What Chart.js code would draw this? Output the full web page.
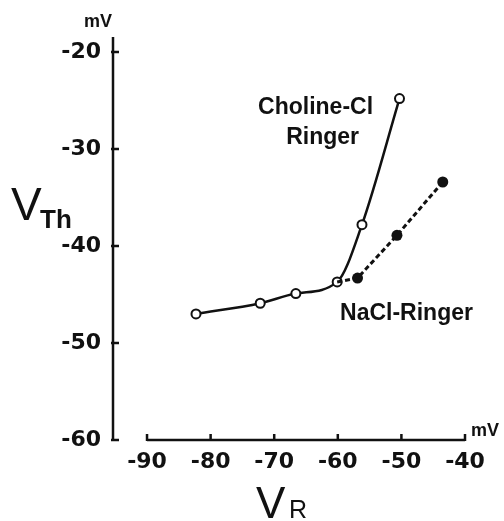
<!DOCTYPE html>
<html>
<head>
<meta charset="utf-8">
<script src="https://cdn.jsdelivr.net/npm/chart.js@4.4.1/dist/chart.umd.min.js"></script>
<style>
  html, body { margin: 0; padding: 0; background: #fff; }
  canvas { display: block; }
</style>
</head>
<body>
<canvas id="vthChart" width="504" height="521"></canvas>
<script>
// resting potential V_R (mV) against threshold V_Th (mV)
const cholineVR  = [-82.3, -72.2, -66.6, -60.1, -56.2, -50.3];
const cholineVTh = [-47.0, -45.9, -44.9, -43.7, -37.8, -24.8];
const naclVR  = [-60.1, -56.9, -50.7, -43.5];
const naclVTh = [-43.7, -43.3, -38.9, -33.4];
const xTicks = [-90, -80, -70, -60, -50, -40];
const yTicks = [-20, -30, -40, -50, -60];

const INK = '#111';

// curve labels, anchored in data units
const notes = [
  { text: 'Choline-Cl', x: -63.5, y: -25.7 },
  { text: 'Ringer', x: -62.4, y: -28.8 },
  { text: 'NaCl-Ringer', x: -49.2, y: -47.0 }
];

const toPoints = (xs, ys) => xs.map((v, i) => ({ x: v, y: ys[i] }));

const inkPlugin = {
  id: 'ink',
  beforeDatasetsDraw(chart) {
    const { ctx, chartArea, scales: { x, y } } = chart;
    const yb = y.getPixelForValue(-60);
    ctx.save();
    ctx.strokeStyle = INK;
    ctx.lineWidth = 2.5;
    ctx.lineCap = 'butt';

    // vertical axis with inward ticks
    ctx.beginPath();
    ctx.moveTo(chartArea.left, chartArea.top);
    ctx.lineTo(chartArea.left, yb + 1);
    yTicks.forEach(v => {
      const py = y.getPixelForValue(v);
      ctx.moveTo(chartArea.left - 2, py);
      ctx.lineTo(chartArea.left + 6, py);
    });
    ctx.stroke();

    // horizontal axis only spans -90..-40
    ctx.beginPath();
    ctx.moveTo(x.getPixelForValue(xTicks[0]), yb);
    ctx.lineTo(x.getPixelForValue(xTicks[xTicks.length - 1]), yb);
    xTicks.forEach(v => {
      const px = x.getPixelForValue(v);
      ctx.moveTo(px, yb + 1);
      ctx.lineTo(px, yb - 6);
    });
    ctx.stroke();
    ctx.restore();
  },
  afterDraw(chart) {
    const { ctx, scales: { x, y } } = chart;
    ctx.save();
    ctx.fillStyle = INK;
    ctx.textBaseline = 'alphabetic';

    // axis titles
    ctx.textAlign = 'left';
    ctx.font = '46px "Liberation Sans"';
    ctx.fillText('V', 11, 220);
    ctx.font = 'bold 26px "Liberation Sans"';
    ctx.fillText('Th', 40, 228);

    ctx.font = '44px "Liberation Sans"';
    ctx.fillText('V', 256, 518);
    ctx.font = '25px "Liberation Sans"';
    ctx.fillText('R', 289, 518);

    // units
    ctx.font = 'bold 18px "Liberation Sans"';
    ctx.textAlign = 'center';
    ctx.fillText('mV', 98, 27);
    ctx.textAlign = 'left';
    ctx.fillText('mV', 471, 436);

    // curve labels
    ctx.font = 'bold 23px "Liberation Sans"';
    ctx.textAlign = 'center';
    ctx.textBaseline = 'middle';
    notes.forEach(n => {
      ctx.fillText(n.text, x.getPixelForValue(n.x), y.getPixelForValue(n.y));
    });
    ctx.restore();
  }
};

new Chart(document.getElementById('vthChart'), {
  type: 'scatter',
  data: {
    datasets: [
      {
        label: 'NaCl-Ringer',
        data: toPoints(naclVR, naclVTh),
        showLine: true,
        borderColor: INK,
        borderWidth: 3,
        borderDash: [5, 3],
        tension: 0,
        pointRadius: [0, 5.5, 5.5, 5.5],
        pointBackgroundColor: INK,
        pointBorderColor: INK,
        pointBorderWidth: 0
      },
      {
        label: 'Choline-Cl Ringer',
        data: toPoints(cholineVR, cholineVTh),
        showLine: true,
        borderColor: INK,
        borderWidth: 2.5,
        cubicInterpolationMode: 'monotone',
        pointRadius: 4.5,
        pointBackgroundColor: '#fff',
        pointBorderColor: INK,
        pointBorderWidth: 2
      }
    ]
  },
  options: {
    responsive: false,
    animation: false,
    devicePixelRatio: 1,
    layout: { padding: { top: 37, right: 39, left: 0, bottom: 0 } },
    plugins: {
      legend: { display: false },
      tooltip: { enabled: false }
    },
    scales: {
      x: {
        type: 'linear',
        min: -95.35,
        max: -40,
        afterBuildTicks: s => { s.ticks = xTicks.map(v => ({ value: v })); },
        afterFit: s => { s.height = 81; },
        grid: { display: false, drawTicks: false },
        border: { display: false },
        ticks: {
          color: INK,
          padding: 9,
          maxRotation: 0,
          font: { family: '"DejaVu Sans"', size: 22, weight: 'bold' }
        }
      },
      y: {
        type: 'linear',
        min: -60,
        max: -18.45,
        afterBuildTicks: s => { s.ticks = yTicks.map(v => ({ value: v })); },
        afterFit: s => { s.width = 113; },
        grid: { display: false, drawTicks: false },
        border: { display: false },
        ticks: {
          color: INK,
          padding: 12,
          font: { family: '"DejaVu Sans"', size: 22, weight: 'bold' }
        }
      }
    }
  },
  plugins: [inkPlugin]
});
</script>
</body>
</html>
